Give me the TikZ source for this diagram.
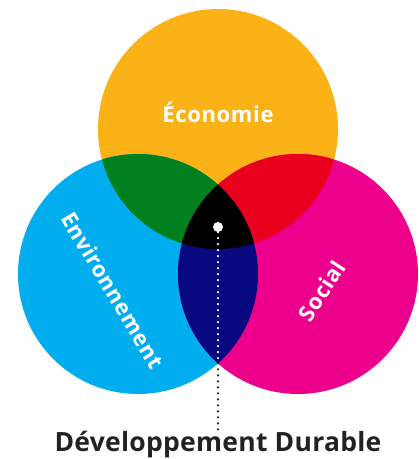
\documentclass[tikz,border=0pt]{standalone}
\usepackage{fontspec}
\setmainfont{Open Sans}
\newfontfamily\circfont[LetterSpace=3]{Open Sans}
\newfontfamily\durfont[LetterSpace=1]{Open Sans}
\usetikzlibrary{positioning}

\definecolor{ecoyellow}{HTML}{FBB217}
\definecolor{envcyan}{HTML}{00AEEF}
\definecolor{socmagenta}{HTML}{EC008C}
\definecolor{ecoenvgreen}{HTML}{007F1F}
\definecolor{ecosocred}{HTML}{E8001C}
\definecolor{envsocnavy}{HTML}{080880}
\definecolor{durgray}{HTML}{222222}

\begin{document}
\begin{tikzpicture}[x = 1pt, y = 1pt,
  circlab/.style = {text = white, font = \circfont\bfseries\fontsize{22}{22}\selectfont},
  dots/.style = {line width = 2.5pt, dash pattern = on 0pt off 6pt, line cap = round}]
\useasboundingbox (0,0) rectangle (419,459);
\coordinate (eco) at (218,330);
\coordinate (env) at (138,185);
\coordinate (soc) at (298,185);
\fill[ecoyellow] (eco) circle (120);
\fill[envcyan] (env) circle (120);
\fill[socmagenta] (soc) circle (120);
\begin{scope}
\clip (eco) circle (120);
\fill[ecoenvgreen] (env) circle (120);
\fill[ecosocred] (soc) circle (120);
\end{scope}
\begin{scope}
\clip (env) circle (120);
\fill[envsocnavy] (soc) circle (120);
\clip (soc) circle (120);
\fill[black] (eco) circle (120);
\end{scope}
\node[circlab] (ecolab) at (218,347) {Économie};
\node[circlab, rotate = -59] (envlab) at (113,169) {Environnement};
\node[circlab, rotate = 57] (soclab) at (322,168) {Social};
\node[circle, fill = white, inner sep = 0pt, minimum size = 10pt] (hub) at (218,232) {};
\coordinate (tip) at (218,95.6);
\node[anchor = base, text = durgray, inner sep = 2pt,
  font = \durfont\bfseries\fontsize{26.5}{26.5}\selectfont] (durable) at (218,7) {Développement Durable};
\draw[dots, white] (hub) -- (tip);
\draw[dots, durgray] (tip) -- (durable.north);
\end{tikzpicture}
\end{document}
